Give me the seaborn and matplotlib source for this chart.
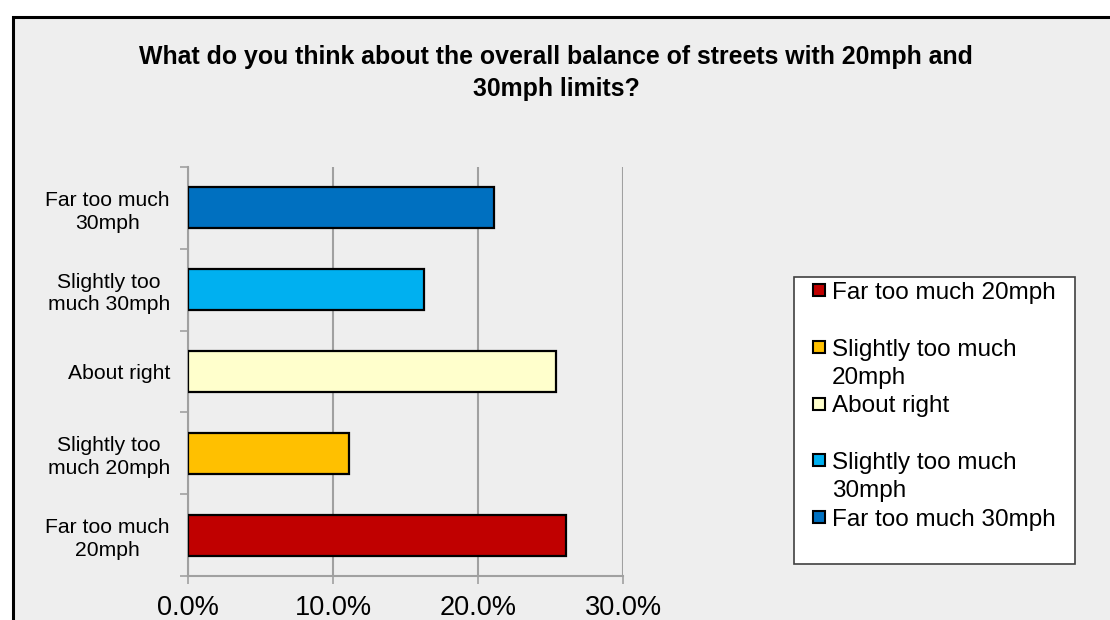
import matplotlib
matplotlib.use("Agg")
import matplotlib.pyplot as plt
import seaborn as sns
import pandas as pd
from matplotlib.patches import Rectangle, Patch
from matplotlib.legend_handler import HandlerPatch
from matplotlib.ticker import PercentFormatter

# ---- data ----
categories = ["Far too much 30mph", "Slightly too much 30mph", "About right",
              "Slightly too much 20mph", "Far too much 20mph"]
tick_labels = ["Far too much\n30mph", "Slightly too\nmuch 30mph", "About right",
               "Slightly too\nmuch 20mph", "Far too much\n20mph"]
values = [0.211, 0.163, 0.254, 0.111, 0.261]
colors = ["#0070C0", "#00B0F0", "#FFFFCC", "#FFC000", "#C00000"]
legend_rows = [("Far too much 20mph", "Far too much 20mph"), (None, " "),
               ("Slightly too much 20mph", "Slightly too much"), (None, "20mph"),
               ("About right", "About right"), (None, " "),
               ("Slightly too much 30mph", "Slightly too much"), (None, "30mph"),
               ("Far too much 30mph", "Far too much 30mph"), (None, " ")]
title = "What do you think about the overall balance of streets with 20mph and\n30mph limits?"

sns.set_style("white")
plt.rcParams["font.family"] = ["Liberation Sans", "DejaVu Sans"]
plt.rcParams["text.color"] = "black"
plt.rcParams["xtick.labelcolor"] = "black"
plt.rcParams["ytick.labelcolor"] = "black"

W, H = 1110, 620
fig = plt.figure(figsize=(W / 100, H / 100), dpi=100, facecolor="white")

# chart area background with border (cropped at right/bottom)
bg = Rectangle((12.5 / W, -0.1), 1.2, 1.1 - 16.5 / H, transform=fig.transFigure,
               facecolor="#EEEEEE", edgecolor="black", linewidth=2.2, zorder=-10)
fig.patches.append(bg)

ax = fig.add_axes([188 / W, 1 - 576 / H, (623 - 188) / W, (576 - 167) / H])
ax.set_facecolor("#EEEEEE")

df = pd.DataFrame({"category": categories, "value": values})
pal = dict(zip(categories, colors))
sns.barplot(data=df, x="value", y="category", hue="category", palette=pal,
            order=categories, hue_order=categories, width=0.5, edgecolor="black",
            linewidth=1.6, dodge=False, legend=False, saturation=1, ax=ax, zorder=3)

ax.set_xlim(0, 0.3)
ax.set_ylim(4.5, -0.5)
ax.set_xlabel("")
ax.set_ylabel("")

grid_c = "#A0A0A0"
ax.set_xticks([0, 0.1, 0.2, 0.3])
ax.xaxis.set_major_formatter(PercentFormatter(1.0, decimals=1))
ax.grid(axis="x", color=grid_c, linewidth=1.5, zorder=0)
ax.set_axisbelow(True)

# y ticks at category boundaries, labels at centers
n = len(categories)
ax.set_yticks([i - 0.5 for i in range(n + 1)])
ax.set_yticklabels([""] * (n + 1))
ax.set_yticks(range(n), minor=True)
ax.set_yticklabels(tick_labels, minor=True, fontsize=15.2, multialignment="center",
                   linespacing=1.25)
ax.tick_params(axis="y", which="major", length=6, width=1.2, color=grid_c, direction="out", left=True)
ax.tick_params(axis="y", which="minor", length=0, pad=13)
ax.tick_params(axis="x", which="major", length=6, width=1.2, color=grid_c, direction="out",
               bottom=True, labelsize=19.5, pad=8)

for s in ["top", "right"]:
    ax.spines[s].set_visible(False)
for s in ["left", "bottom"]:
    ax.spines[s].set_color(grid_c)
    ax.spines[s].set_linewidth(1.5)

fig.text(556 / W, 1 - 45 / H, title, ha="center", va="top", fontsize=17.9,
         fontweight="bold", linespacing=1.4, color="black")

# legend
SQ = 8.5  # points


def make_sq(legend, orig_handle, xdescent, ydescent, width, height, fontsize):
    return Rectangle((-xdescent + width - SQ, -ydescent + (height - SQ) / 2), SQ, SQ)


handles, labels = [], []
for key, lab in legend_rows:
    if key is None:
        handles.append(Patch(facecolor="none", edgecolor="none"))
    else:
        handles.append(Patch(facecolor=pal[key], edgecolor="black", linewidth=1.5))
    labels.append(lab)

leg = fig.legend(handles, labels, loc="upper left",
                 bbox_to_anchor=(794 / W, 1 - 560 / H, (1075 - 794) / W, (560 - 277) / H),
                 mode="expand", borderaxespad=0, fontsize=17.5, frameon=True,
                 fancybox=False, framealpha=1, facecolor="white", edgecolor="#404040",
                 handlelength=1.06, handleheight=0.7, handletextpad=0.3,
                 borderpad=0.2, labelspacing=0.26,
                 handler_map={Patch: HandlerPatch(patch_func=make_sq)})
leg.get_frame().set_linewidth(1.2)

fig.savefig("out.png", dpi=100, facecolor="white")
